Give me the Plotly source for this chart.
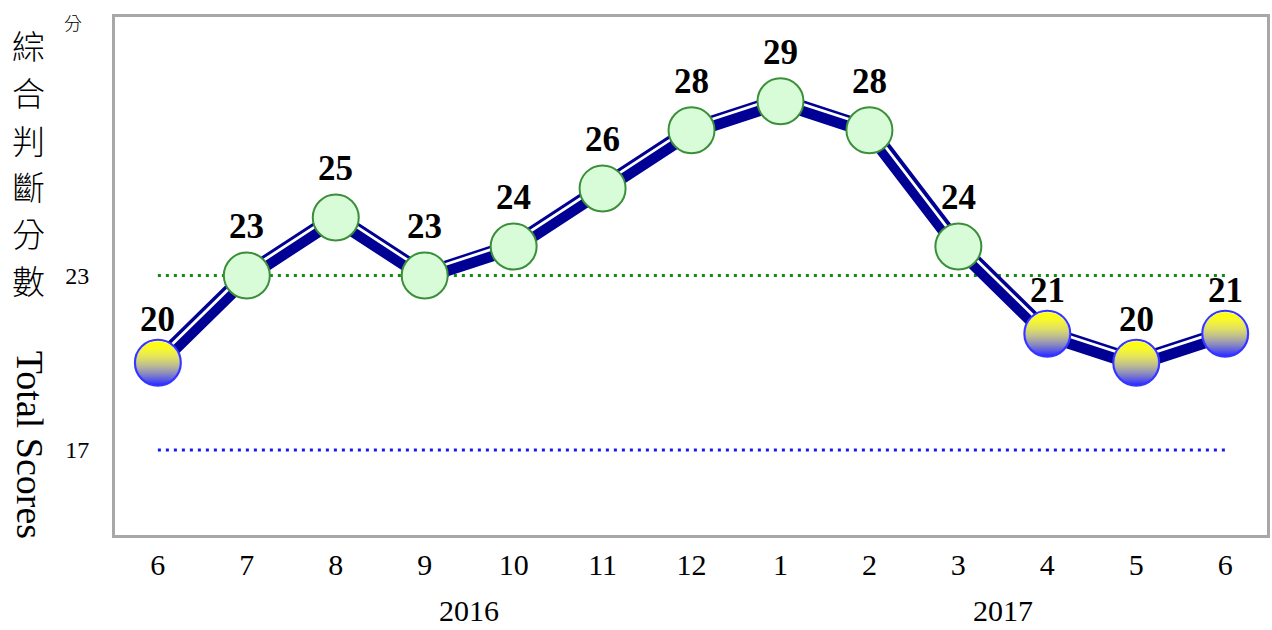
import plotly.graph_objects as go

# ---------------- data ----------------
months = ["6", "7", "8", "9", "10", "11", "12", "1", "2", "3", "4", "5", "6"]
scores = [20, 23, 25, 23, 24, 26, 28, 29, 28, 24, 21, 20, 21]
lights = ["yb", "g", "g", "g", "g", "g", "g", "g", "g", "g", "yb", "yb", "yb"]
years = ["2016", "2017"]
year_pos = [3.5, 9.5]
ref_upper = 23
ref_lower = 17
ytick_vals = [17, 23]
title_zh = "綜合判斷分數"
title_en = "Total Scores"
unit_label = "分"

# ---------------- layout constants ----------------
W, H = 1272, 630
ML, MR, MT, MB = 115, 2, 17, 95
PW, PH = W - ML - MR, H - MT - MB


def px_x(p):
    return (p - ML) / PW


def px_y(p):
    return (H - MB - p) / PH


x = list(range(len(months)))
SERIF = "Liberation Serif, Times New Roman, serif"
CJK = "Noto Sans CJK TC, Noto Sans CJK SC, sans-serif"

fig = go.Figure()

# reference lines
fig.add_trace(go.Scatter(x=[x[0], x[-1]], y=[ref_upper, ref_upper], mode="lines",
                         line=dict(color="#138a13", width=3, dash="3px,5px"), hoverinfo="skip"))
fig.add_trace(go.Scatter(x=[x[0], x[-1]], y=[ref_lower, ref_lower], mode="lines",
                         line=dict(color="#1a1aee", width=3, dash="3px,5px"), hoverinfo="skip"))

# thick navy line with white highlight
fig.add_trace(go.Scatter(x=x, y=scores, mode="lines",
                         line=dict(color="#000094", width=16), hoverinfo="skip"))
hl_off = 0.15
fig.add_trace(go.Scatter(x=x, y=[s + hl_off for s in scores], mode="lines",
                         line=dict(color="white", width=2.8), hoverinfo="skip"))

# markers (base layer)
fill = {"g": "#d7fcd7", "yb": "#ffffff"}
edge = {"g": "#3b8f3b", "yb": "#3535ff"}
gtype = {"g": "none", "yb": "vertical"}
gcol = {"g": "#d7fcd7", "yb": "#2a2aff"}
fig.add_trace(go.Scatter(
    x=x, y=scores, mode="markers",
    marker=dict(size=46, color=[fill[l] for l in lights],
                line=dict(color=[edge[l] for l in lights], width=2),
                gradient=dict(type=[gtype[l] for l in lights], color=[gcol[l] for l in lights])),
    hoverinfo="x+y"))

# yellow glow overlay for yellow-blue signals
yb_x = [xi for xi, l in zip(x, lights) if l == "yb"]
yb_y = [s for s, l in zip(scores, lights) if l == "yb"]
fig.add_trace(go.Scatter(
    x=yb_x, y=yb_y, mode="markers",
    marker=dict(size=43, color="rgba(255,255,0,1)", line=dict(width=0),
                gradient=dict(type="vertical", color="rgba(255,255,0,0)")),
    hoverinfo="skip"))

annotations = []
label_shift = {"g": 49, "yb": 43}
for xi, s, l in zip(x, scores, lights):
    annotations.append(dict(x=xi, y=s, xref="x", yref="y", text=str(s), showarrow=False,
                            yanchor="middle", yshift=label_shift[l],
                            font=dict(family=SERIF, size=35, color="black", weight="bold")))

for yr, pos in zip(years, year_pos):
    annotations.append(dict(x=pos, y=px_y(610), xref="x", yref="paper", text=yr, showarrow=False,
                            yanchor="middle", font=dict(family=SERIF, size=30, color="black")))

zh_y = [45, 92, 140, 186, 233, 280]
for ch, py in zip(title_zh, zh_y):
    annotations.append(dict(x=px_x(28), y=px_y(py), xref="paper", yref="paper", text=ch,
                            showarrow=False, xanchor="center", yanchor="middle",
                            font=dict(family=CJK, size=33, color="black", weight=300)))

annotations.append(dict(x=px_x(30), y=px_y(445), xref="paper", yref="paper", text=title_en,
                        showarrow=False, textangle=90, xanchor="center", yanchor="middle",
                        font=dict(family=SERIF, size=38, color="black")))
annotations.append(dict(x=px_x(73), y=px_y(22), xref="paper", yref="paper", text=unit_label,
                        showarrow=False, xanchor="center", yanchor="middle",
                        font=dict(family=CJK, size=18, color="black", weight=300)))

fig.update_layout(
    width=W, height=H,
    margin=dict(l=ML, r=MR, t=MT, b=MB),
    paper_bgcolor="white", plot_bgcolor="white",
    showlegend=False,
    annotations=annotations,
    xaxis=dict(range=[-0.482, 12.47], tickvals=x, ticktext=months,
               showgrid=False, zeroline=False, showline=True, mirror=True,
               linecolor="#a8a8a8", linewidth=3,
               ticks="outside", ticklen=1, tickcolor="rgba(0,0,0,0)",
               tickfont=dict(family=SERIF, size=30, color="black")),
    yaxis=dict(range=[14.07, 31.9], tickvals=ytick_vals,
               showgrid=False, zeroline=False, showline=True, mirror=True,
               linecolor="#a8a8a8", linewidth=3,
               ticks="outside", ticklen=18, tickcolor="rgba(0,0,0,0)",
               tickfont=dict(family=SERIF, size=24, color="black")),
)

fig.write_html("out.html", config={"displayModeBar": False},
               post_script="document.body.style.margin='0';")
